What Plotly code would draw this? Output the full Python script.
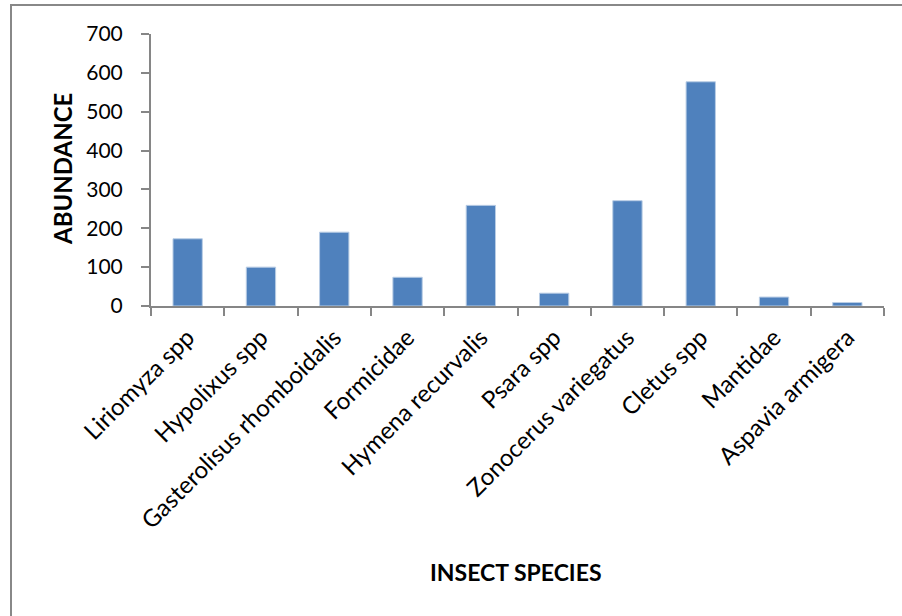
import plotly.graph_objects as go

species = ["Liriomyza spp", "Hypolixus spp", "Gasterolisus rhomboidalis", "Formicidae",
           "Hymena recurvalis", "Psara spp", "Zonocerus variegatus", "Cletus spp",
           "Mantidae", "Aspavia armigera"]
abundance = [173, 100, 190, 74, 259, 33, 271, 577, 23, 9]
y_ticks = [0, 100, 200, 300, 400, 500, 600, 700]

W, H = 902, 616
L, R, T, B = 151, 18, 34, 310
pw, ph = W - L - R, H - T - B

def px_x(x):
    return (x - L) / pw

def px_y(y):
    return (H - B - y) / ph

FONT = "Lato, Calibri, Carlito, sans-serif"

fig = go.Figure(go.Bar(
    x=species, y=abundance,
    marker=dict(color="#4F81BD", line=dict(color="#B9CDE5", width=1)),
    width=0.4,
))

fig.update_layout(
    width=W, height=H,
    margin=dict(l=L, r=R, t=T, b=B, pad=0),
    paper_bgcolor="white", plot_bgcolor="white",
    showlegend=False,
    font=dict(family=FONT, color="black", size=21),
    xaxis=dict(
        showline=True, linecolor="#868686", linewidth=2,
        ticks="outside", ticklen=8, tickcolor="#868686", tickwidth=2,
        tickson="boundaries", tickangle=-45,
        tickfont=dict(size=24), showgrid=False,
        ticklabelstandoff=6,
    ),
    yaxis=dict(
        range=[0, 700], tickvals=y_ticks,
        showline=True, linecolor="#868686", linewidth=2,
        ticks="outside", ticklen=8, tickcolor="#868686", tickwidth=2,
        tickfont=dict(size=21), showgrid=False, zeroline=False,
        ticklabelstandoff=14,
    ),
    shapes=[dict(type="rect", xref="paper", yref="paper",
                 x0=px_x(11), x1=px_x(W + 40), y0=px_y(H + 40), y1=px_y(5),
                 line=dict(color="#888888", width=2), fillcolor="rgba(0,0,0,0)",
                 layer="below")],
    annotations=[
        dict(text="<b>ABUNDANCE</b>", xref="paper", yref="paper",
             x=px_x(62), y=px_y(169), textangle=-90, showarrow=False,
             font=dict(size=24), xanchor="center", yanchor="middle"),
        dict(text="<b>INSECT SPECIES</b>", xref="paper", yref="paper",
             x=px_x(516), y=px_y(572), showarrow=False,
             font=dict(size=23), xanchor="center", yanchor="middle"),
    ],
)

fig.write_html("out.html",
               config={"displayModeBar": False},
               post_script="document.body.style.margin='0';document.body.style.overflow='hidden';")
